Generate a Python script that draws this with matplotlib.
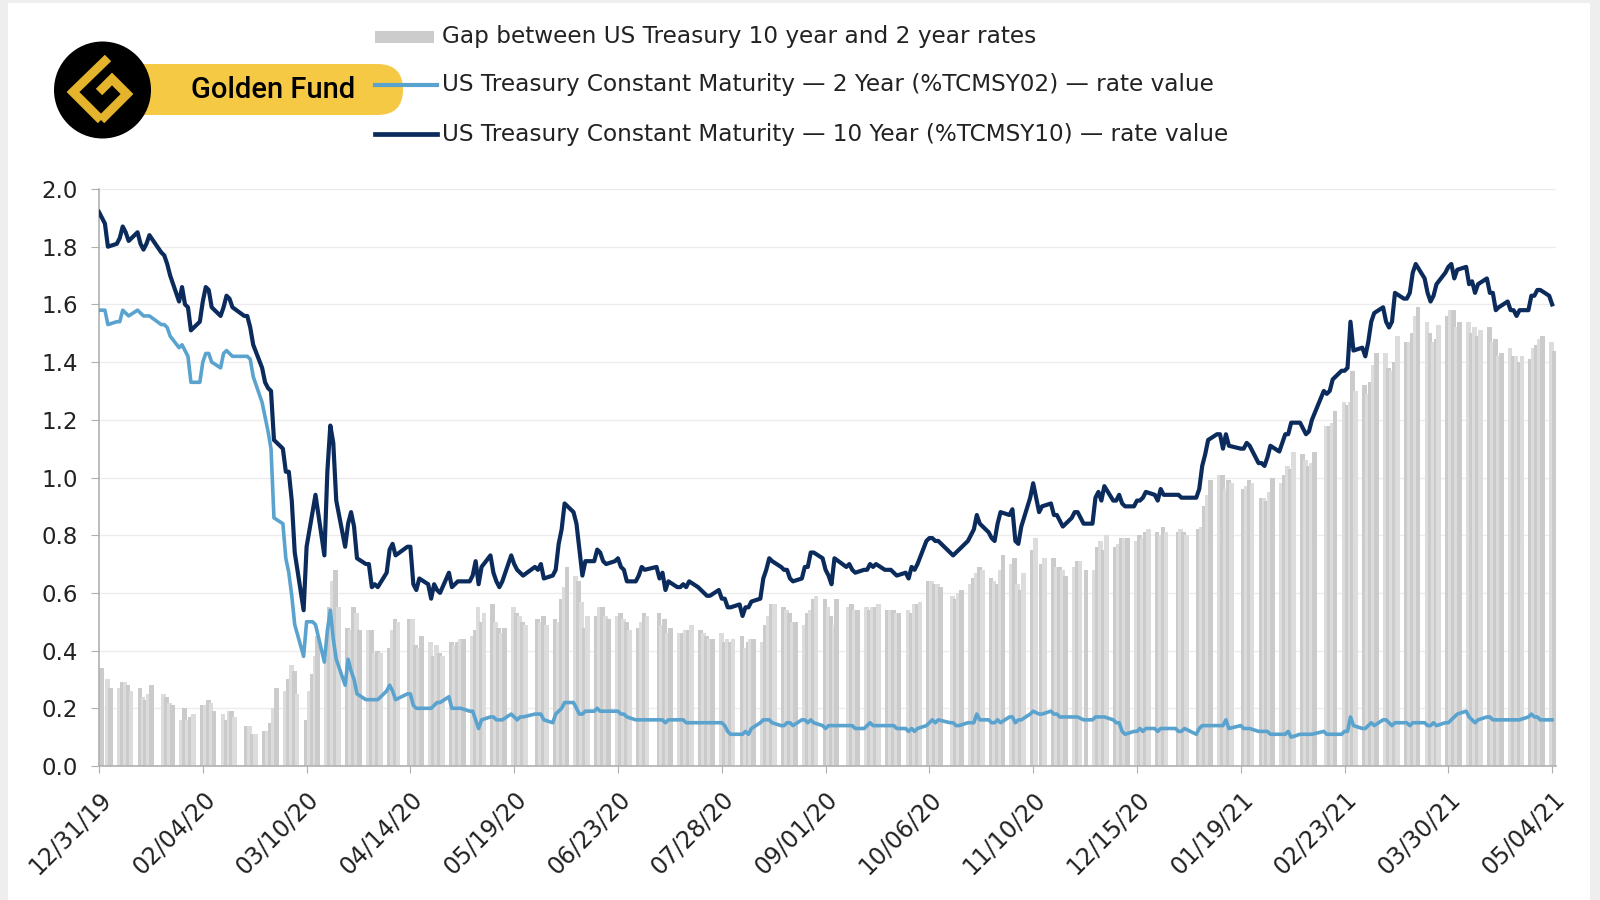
import numpy as np
import pandas as pd
import matplotlib
matplotlib.use("Agg")
import matplotlib.pyplot as plt
from matplotlib.patches import Rectangle, FancyBboxPatch, Circle
from matplotlib.lines import Line2D
from matplotlib.ticker import FormatStrFormatter

# daily treasury rates, business days 12/31/19 - 05/04/21 (bond market holidays skipped)
holidays = ["2020-01-01", "2020-01-20", "2020-02-17", "2020-04-10", "2020-05-25",
            "2020-07-03", "2020-09-07", "2020-10-12", "2020-11-11", "2020-11-26",
            "2020-12-25", "2021-01-01", "2021-01-18", "2021-02-15"]

ten_year = [
    1.92,
    # 2020-01
    1.88, 1.80, 1.81, 1.83, 1.87, 1.85, 1.82, 1.85, 1.81, 1.79, 1.81, 1.84,
    1.78, 1.77, 1.74, 1.70, 1.61, 1.66, 1.60, 1.59, 1.51,
    # 2020-02
    1.54, 1.61, 1.66, 1.65, 1.59, 1.56, 1.59, 1.63, 1.62, 1.59, 1.56, 1.56,
    1.52, 1.46, 1.38, 1.33, 1.31, 1.30, 1.13,
    # 2020-03
    1.10, 1.02, 1.02, 0.92, 0.74, 0.54, 0.76, 0.82, 0.88, 0.94, 0.73, 1.02,
    1.18, 1.12, 0.92, 0.76, 0.84, 0.88, 0.83, 0.72, 0.70, 0.70,
    # 2020-04
    0.62, 0.63, 0.62, 0.67, 0.75, 0.77, 0.73, 0.76, 0.76, 0.63, 0.61, 0.65,
    0.63, 0.58, 0.63, 0.61, 0.60, 0.67, 0.62, 0.63, 0.64,
    # 2020-05
    0.64, 0.64, 0.66, 0.71, 0.63, 0.69, 0.73, 0.67, 0.64, 0.62, 0.64, 0.73,
    0.70, 0.68, 0.67, 0.66, 0.69, 0.68, 0.70, 0.65,
    # 2020-06
    0.66, 0.68, 0.77, 0.82, 0.91, 0.88, 0.84, 0.75, 0.66, 0.71, 0.71, 0.75,
    0.74, 0.71, 0.70, 0.71, 0.72, 0.69, 0.68, 0.64, 0.64, 0.66,
    # 2020-07
    0.69, 0.68, 0.69, 0.65, 0.67, 0.61, 0.64, 0.62, 0.62, 0.63, 0.62, 0.64,
    0.62, 0.61, 0.60, 0.59, 0.59, 0.61, 0.58, 0.58, 0.55, 0.55,
    # 2020-08
    0.56, 0.52, 0.55, 0.55, 0.57, 0.58, 0.65, 0.68, 0.72, 0.71, 0.69, 0.68,
    0.68, 0.65, 0.64, 0.65, 0.69, 0.69, 0.74, 0.74, 0.72,
    # 2020-09
    0.68, 0.66, 0.63, 0.72, 0.69, 0.70, 0.68, 0.67, 0.68, 0.68, 0.70, 0.69,
    0.70, 0.68, 0.68, 0.68, 0.67, 0.66, 0.67, 0.65, 0.69,
    # 2020-10
    0.68, 0.70, 0.78, 0.79, 0.79, 0.78, 0.78, 0.74, 0.73, 0.74, 0.75, 0.78,
    0.80, 0.82, 0.87, 0.84, 0.81, 0.79, 0.78, 0.84, 0.88,
    # 2020-11
    0.87, 0.89, 0.78, 0.77, 0.83, 0.93, 0.98, 0.88, 0.90, 0.91, 0.87, 0.87,
    0.85, 0.83, 0.86, 0.88, 0.88, 0.84, 0.84,
    # 2020-12
    0.93, 0.95, 0.92, 0.97, 0.92, 0.92, 0.94, 0.91, 0.90, 0.90, 0.92, 0.92,
    0.93, 0.95, 0.94, 0.92, 0.96, 0.94, 0.94, 0.94, 0.93, 0.93,
    # 2021-01
    0.93, 0.96, 1.04, 1.08, 1.13, 1.15, 1.15, 1.10, 1.15, 1.11, 1.10, 1.10,
    1.12, 1.11, 1.05, 1.05, 1.04, 1.07, 1.11,
    # 2021-02
    1.09, 1.12, 1.15, 1.15, 1.19, 1.19, 1.17, 1.15, 1.16, 1.20, 1.30, 1.29,
    1.30, 1.34, 1.37, 1.37, 1.38, 1.54, 1.44,
    # 2021-03
    1.45, 1.42, 1.47, 1.54, 1.57, 1.59, 1.54, 1.52, 1.54, 1.64, 1.62, 1.62,
    1.64, 1.71, 1.74, 1.69, 1.64, 1.61, 1.63, 1.67, 1.71, 1.73, 1.74,
    # 2021-04
    1.69, 1.72, 1.73, 1.67, 1.68, 1.64, 1.67, 1.69, 1.64, 1.64, 1.58, 1.59,
    1.61, 1.58, 1.58, 1.56, 1.58, 1.58, 1.63, 1.63, 1.65, 1.65,
    # 2021-05
    1.63, 1.60,
]

two_year = [
    1.58,
    # 2020-01
    1.58, 1.53, 1.54, 1.54, 1.58, 1.57, 1.56, 1.58, 1.57, 1.56, 1.56, 1.56,
    1.53, 1.53, 1.52, 1.49, 1.45, 1.46, 1.44, 1.42, 1.33,
    # 2020-02
    1.33, 1.40, 1.43, 1.43, 1.40, 1.38, 1.43, 1.44, 1.43, 1.42, 1.42, 1.42,
    1.41, 1.35, 1.26, 1.21, 1.16, 1.10, 0.86,
    # 2020-03
    0.84, 0.72, 0.67, 0.59, 0.49, 0.38, 0.50, 0.50, 0.50, 0.49, 0.36, 0.47,
    0.54, 0.44, 0.37, 0.28, 0.37, 0.33, 0.30, 0.25, 0.23, 0.23,
    # 2020-04
    0.23, 0.23, 0.23, 0.26, 0.28, 0.26, 0.23, 0.25, 0.25, 0.21, 0.20, 0.20,
    0.20, 0.20, 0.21, 0.22, 0.22, 0.24, 0.20, 0.20, 0.20,
    # 2020-05
    0.20, 0.19, 0.19, 0.16, 0.13, 0.16, 0.17, 0.17, 0.16, 0.16, 0.16, 0.18,
    0.17, 0.16, 0.17, 0.17, 0.18, 0.18, 0.18, 0.16,
    # 2020-06
    0.15, 0.18, 0.19, 0.20, 0.22, 0.22, 0.20, 0.18, 0.18, 0.19, 0.19, 0.20,
    0.19, 0.19, 0.19, 0.19, 0.19, 0.18, 0.18, 0.17, 0.16, 0.16,
    # 2020-07
    0.16, 0.16, 0.16, 0.16, 0.16, 0.15, 0.16, 0.16, 0.16, 0.16, 0.15, 0.15,
    0.15, 0.15, 0.15, 0.15, 0.15, 0.15, 0.15, 0.14, 0.12, 0.11,
    # 2020-08
    0.11, 0.11, 0.12, 0.11, 0.13, 0.15, 0.16, 0.16, 0.16, 0.15, 0.14, 0.14,
    0.15, 0.15, 0.14, 0.16, 0.16, 0.15, 0.16, 0.15, 0.14,
    # 2020-09
    0.13, 0.14, 0.14, 0.14, 0.14, 0.14, 0.14, 0.13, 0.13, 0.14, 0.15, 0.14,
    0.14, 0.14, 0.14, 0.14, 0.14, 0.13, 0.13, 0.12, 0.13,
    # 2020-10
    0.12, 0.13, 0.14, 0.15, 0.16, 0.15, 0.16, 0.15, 0.15, 0.14, 0.14, 0.15,
    0.15, 0.15, 0.18, 0.16, 0.16, 0.15, 0.15, 0.16, 0.15,
    # 2020-11
    0.17, 0.17, 0.15, 0.16, 0.16, 0.18, 0.19, 0.18, 0.18, 0.19, 0.18, 0.18,
    0.17, 0.17, 0.17, 0.17, 0.17, 0.16, 0.16,
    # 2020-12
    0.17, 0.17, 0.17, 0.17, 0.16, 0.15, 0.15, 0.12, 0.11, 0.12, 0.12, 0.13,
    0.12, 0.13, 0.13, 0.12, 0.13, 0.13, 0.13, 0.12, 0.12, 0.13,
    # 2021-01
    0.11, 0.13, 0.14, 0.14, 0.14, 0.14, 0.14, 0.14, 0.16, 0.13, 0.14, 0.13,
    0.13, 0.13, 0.12, 0.12, 0.12, 0.12, 0.11,
    # 2021-02
    0.11, 0.11, 0.11, 0.12, 0.10, 0.11, 0.11, 0.11, 0.11, 0.11, 0.12, 0.11,
    0.11, 0.11, 0.11, 0.12, 0.12, 0.17, 0.14,
    # 2021-03
    0.13, 0.13, 0.14, 0.15, 0.14, 0.16, 0.16, 0.15, 0.14, 0.15, 0.15, 0.15,
    0.14, 0.15, 0.15, 0.15, 0.14, 0.14, 0.15, 0.14, 0.15, 0.15, 0.16,
    # 2021-04
    0.17, 0.18, 0.19, 0.17, 0.16, 0.15, 0.16, 0.17, 0.17, 0.16, 0.16, 0.16,
    0.16, 0.16, 0.16, 0.16, 0.16, 0.17, 0.18, 0.17, 0.17, 0.16,
    # 2021-05
    0.16, 0.16,
]

labels = ["Gap between US Treasury 10 year and 2 year rates",
          "US Treasury Constant Maturity \u2014 2 Year (%TCMSY02) \u2014 rate value",
          "US Treasury Constant Maturity \u2014 10 Year (%TCMSY10) \u2014 rate value"]

dates = pd.bdate_range("2019-12-31", "2021-05-04")
dates = dates[~dates.isin(pd.to_datetime(holidays))]
assert len(dates) == len(ten_year) == len(two_year)
gap = np.array(ten_year) - np.array(two_year)
tick_dates = pd.date_range("2019-12-31", "2021-05-04", freq="35D")

c_two = "#5aa3cf"
c_ten = "#0b2b5c"

W, H = 1600, 900
fig = plt.figure(figsize=(16, 9), dpi=100)
fig.patch.set_facecolor("#eeeeee")
fig.add_artist(Rectangle((8 / W, 0), (1590 - 8) / W, 1 - 3 / H,
                         transform=fig.transFigure, facecolor="white",
                         edgecolor="none", zorder=-1))

ax = fig.add_axes([99 / W, 1 - 766 / H, 1457 / W, 577 / H])
ax.set_facecolor("white")
bar_cols = ["#dcdcdc" if i % 2 else "#cbcbcb" for i in range(len(dates))]
ax.bar(dates, gap, width=1.6, align="edge", color=bar_cols, lw=0, zorder=1)
ax.plot(dates, two_year, color=c_two, lw=2.6, zorder=3)
ax.plot(dates, ten_year, color=c_ten, lw=3.0, zorder=4)

ax.set_xlim(dates[0], dates[-1] + pd.Timedelta(days=1.3))
ax.set_ylim(0, 2.0)
ax.set_yticks(np.arange(0, 2.01, 0.2))
ax.yaxis.set_major_formatter(FormatStrFormatter("%.1f"))
ax.set_xticks(tick_dates)
ax.set_xticklabels([d.strftime("%m/%d/%y") for d in tick_dates],
                   rotation=45, ha="right", rotation_mode="anchor")
ax.grid(axis="y", color="#ececec", lw=1)
ax.set_axisbelow(True)
for s in ["top", "right"]:
    ax.spines[s].set_visible(False)
for s in ["left", "bottom"]:
    ax.spines[s].set_color("#b0b0b0")
    ax.spines[s].set_linewidth(1.2)
ax.tick_params(axis="y", length=6, color="#b0b0b0", labelsize=16.5,
               pad=9, labelcolor="#222222")
ax.tick_params(axis="x", length=5, color="#b0b0b0", labelsize=17,
               pad=10, labelcolor="#222222")

# overlay in pixel coordinates for legend and logo
ov = fig.add_axes([0, 0, 1, 1], zorder=5)
ov.set_xlim(0, W)
ov.set_ylim(H, 0)
ov.axis("off")
ov.patch.set_alpha(0)

ov.add_patch(Rectangle((375, 31), 59, 12, facecolor="#cccccc", edgecolor="none"))
ov.add_line(Line2D([375, 437], [85, 85], color=c_two, lw=3))
ov.add_line(Line2D([375, 437], [134, 134], color=c_ten, lw=3.4))
for y, t in zip([37, 85, 134], labels):
    ov.text(442, y, t, fontsize=16.7, color="#222222", va="center", ha="left")

# Golden Fund badge
ov.add_patch(FancyBboxPatch((100, 64), 303, 51,
                            boxstyle="round,pad=0,rounding_size=25.5",
                            facecolor="#f6c945", edgecolor="none"))
ov.add_patch(Circle((102.5, 90), 48.5, facecolor="black", edgecolor="none"))
gold = "#e4b42c"
ov.add_line(Line2D([108, 73, 101], [58, 92, 120], color=gold, lw=6.5,
                   solid_joinstyle="miter", solid_capstyle="butt"))
ov.add_line(Line2D([101, 127, 112, 99], [120, 94, 79, 92], color=gold, lw=6.5,
                   solid_joinstyle="miter", solid_capstyle="butt"))
ov.text(273, 90, "Golden Fund", fontsize=21, fontweight="medium",
        family="Roboto", color="black", ha="center", va="center")

fig.savefig("out.png", dpi=100, facecolor=fig.get_facecolor())
